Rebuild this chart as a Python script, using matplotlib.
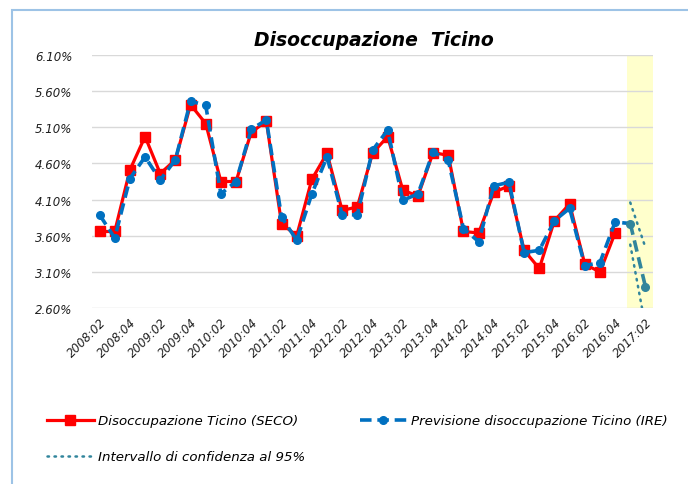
import matplotlib
matplotlib.use("Agg")
import matplotlib.pyplot as plt
import numpy as np
from matplotlib.lines import Line2D
from matplotlib.patches import Rectangle

# ---- data (percent) ----
n_quarters = 37  # 2008:02 ... 2017:02
tick_labels = ["2008:02", "2008:04", "2009:02", "2009:04", "2010:02", "2010:04",
               "2011:02", "2011:04", "2012:02", "2012:04", "2013:02", "2013:04",
               "2014:02", "2014:04", "2015:02", "2015:04", "2016:02", "2016:04",
               "2017:02"]
seco = [3.66, 3.66, 4.51, 4.97, 4.46, 4.65, 5.41, 5.15, 4.35, 4.35, 5.03, 5.18,
        3.77, 3.60, 4.38, 4.74, 3.95, 4.00, 4.74, 4.97, 4.23, 4.15, 4.75, 4.71,
        3.66, 3.64, 4.20, 4.29, 3.40, 3.15, 3.81, 4.04, 3.21, 3.10, 3.64]
ire = [3.89, 3.57, 4.39, 4.69, 4.37, 4.65, 5.46, 5.40, 4.18, 4.35, 5.07, 5.20,
       3.86, 3.54, 4.18, 4.69, 3.89, 3.89, 4.78, 5.06, 4.09, 4.18, 4.76, 4.64,
       3.70, 3.52, 4.29, 4.34, 3.37, 3.40, 3.81, 3.98, 3.19, 3.23, 3.79]
forecast = [3.77, 2.90]          # 2017:01, 2017:02
ci_upper = [4.06, 3.44]
ci_lower = [3.48, 2.35]
band_start = 34.8                # shaded forecast region (category units)

RED = "#FF0000"
BLUE = "#0070C0"
TEAL = "#31859C"

fig = plt.figure(figsize=(6.88, 4.85), dpi=100)
W, H = 688.0, 485.0
ax = fig.add_axes([92 / W, 1 - 309.3 / H, (653 - 92) / W, (309.3 - 55.7) / H])

x_seco = np.arange(len(seco))
x_fc = np.arange(len(ire), len(ire) + len(forecast))

ax.axvspan(band_start, n_quarters - 0.5, color="#FFFFCC", zorder=0, lw=0)

ax.plot(x_seco, seco, color=RED, lw=2.3, marker="s", ms=6.5,
        markeredgecolor=RED, zorder=3)
ire_ext = list(ire) + [forecast[0]]
ax.plot(np.arange(len(ire_ext)), ire_ext, color=BLUE, lw=2.6, dashes=(3.2, 1.6),
        marker="o", ms=5.5, markevery=list(range(len(ire))), zorder=4)
ax.plot(x_fc, forecast, color=TEAL, lw=2.6, dashes=(3.2, 1.6), marker="o", ms=5.5, zorder=4)
ax.plot(x_fc, ci_upper, color=TEAL, lw=1.8, linestyle=(0, (0.6, 2.2)),
        dash_capstyle="round", zorder=5)
ax.plot(x_fc, ci_lower, color=TEAL, lw=1.8, linestyle=(0, (0.6, 2.2)),
        dash_capstyle="round", zorder=5)

ax.set_xlim(-0.5, n_quarters - 0.5)
ax.set_ylim(2.6, 6.1)
yt = np.arange(2.6, 6.11, 0.5)
ax.set_yticks(yt)
ax.set_yticklabels([f"{v:.2f}%" for v in yt], fontstyle="italic", fontsize=8.5,
                   color="#1F1F1F")
ax.set_xticks(np.arange(0, n_quarters, 2))
ax.set_xticklabels(tick_labels, rotation=45, ha="right", va="top",
                   rotation_mode="anchor", fontstyle="italic", fontsize=8.5,
                   color="#1F1F1F")
ax.tick_params(axis="both", length=0)
ax.tick_params(axis="y", pad=14)
ax.tick_params(axis="x", pad=5)
ax.grid(axis="y", color="#D9D9D9", lw=1)
ax.set_axisbelow(True)
for s in ax.spines.values():
    s.set_visible(False)

fig.text(374 / W, 1 - 40 / H, "Disoccupazione  Ticino", ha="center", va="center",
         fontsize=13.5, fontweight="bold", fontstyle="italic", color="black")

# chart border
fig.patches.append(Rectangle((12 / W, -0.05), 1.2, 1 - 11 / H + 0.05,
                             transform=fig.transFigure, fill=False,
                             edgecolor="#9DC3E6", lw=1.5))

# legend
h1 = Line2D([], [], color=RED, lw=2.3, marker="s", ms=6.5)
h2 = Line2D([], [], color=BLUE, lw=2.6, dashes=(3.2, 1.6), marker="o", ms=5.5)
h3 = Line2D([], [], color=TEAL, lw=1.8, linestyle=(0, (0.6, 2.2)), dash_capstyle="round")
legkw = dict(frameon=False, handlelength=3.5, handletextpad=0.3, borderaxespad=0,
             borderpad=0, prop={"style": "italic", "size": 9.6})
fig.legend([h1], ["Disoccupazione Ticino (SECO)"], loc="center left",
           bbox_to_anchor=(47 / W, 1 - 422 / H), **legkw)
fig.legend([h2], ["Previsione disoccupazione Ticino (IRE)"], loc="center left",
           bbox_to_anchor=(360 / W, 1 - 422 / H), **legkw)
fig.legend([h3], ["Intervallo di confidenza al 95%"], loc="center left",
           bbox_to_anchor=(47 / W, 1 - 458 / H), **legkw)

fig.savefig("out.png", dpi=100)
